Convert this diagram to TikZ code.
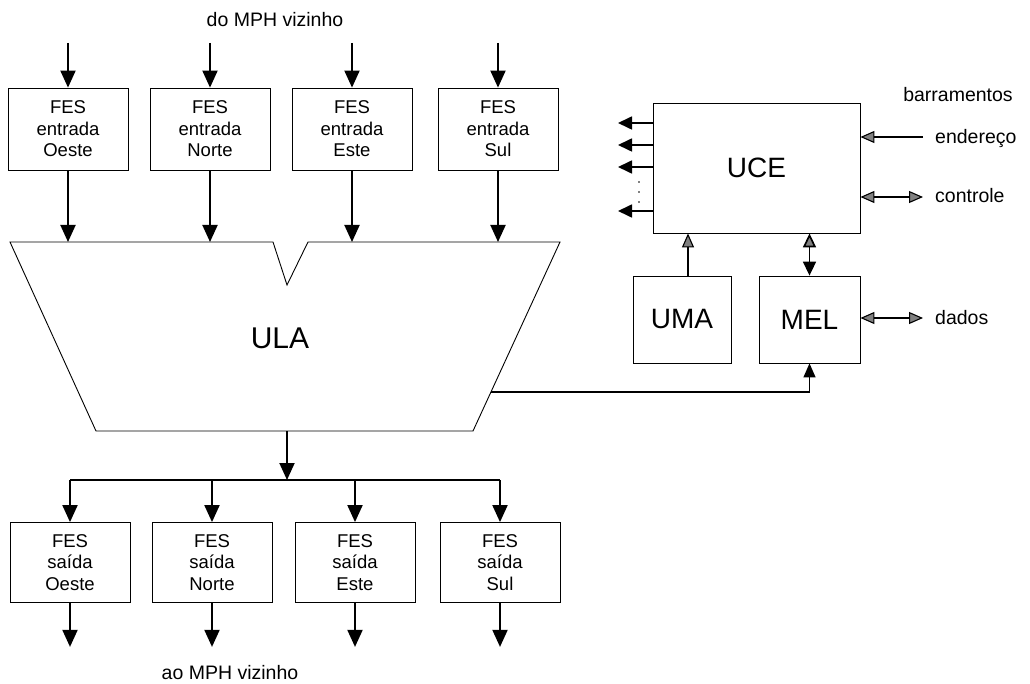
\documentclass[tikz,border=0pt]{standalone}
\usepackage{fontspec}
\setmainfont{Liberation Sans}
\usetikzlibrary{arrows.meta,calc}
\begin{document}
\begin{tikzpicture}[x=1pt,y=-1pt,
  fes/.style={draw,line width=0.8pt,minimum width=120pt,minimum height=82pt,align=center,inner sep=0pt,
    font=\fontsize{18.5}{21.5}\selectfont},
  big/.style={draw,line width=0.8pt,inner sep=0pt,font=\fontsize{28}{32}\selectfont},
  lbl/.style={font=\fontsize{19.5}{22}\selectfont,inner sep=0pt},
  arr/.style={line width=1.9pt,-{Triangle[length=17pt,width=15pt]}},
  sarr/.style={line width=1.7pt,-{Triangle[length=14pt,width=13pt]}},
  marr/.style={line width=1.3pt,-{Triangle[length=14pt,width=12pt]}},
  garr/.style={line width=1.1pt,-{Triangle[length=14pt,width=12pt,fill=gray]}},
  gdarr/.style={line width=1.1pt,{Triangle[length=14pt,width=12pt,fill=gray]}-{Triangle[length=14pt,width=12pt,fill=gray]}},
  bdarr/.style={line width=1.7pt,{Triangle[length=14pt,width=13pt,fill=gray]}-{Triangle[length=14pt,width=13pt]}}
]
\useasboundingbox (0,0) rectangle (1030,684);

% top label
\node[lbl,anchor=base] (top) at (275,27) {do MPH vizinho};

% input FES
\node[fes] (i1) at (68,129) {FES\\entrada\\Oeste};
\node[fes] (i2) at (210,129) {FES\\entrada\\Norte};
\node[fes] (i3) at (352,129) {FES\\entrada\\Este};
\node[fes] (i4) at (498,129) {FES\\entrada\\Sul};

\foreach \n/\x in {1/68,2/210,3/352,4/498}{
  \coordinate (s\n) at (\x,43);
  \draw[arr] (s\n) -- (i\n.north);
  \coordinate (u\n) at (\x,242);
  \draw[arr] (i\n.south) -- (u\n);
}

% ULA
\coordinate (ula1) at (10,242);
\coordinate (ula2) at (273,242);
\coordinate (ula3) at (287,285);
\coordinate (ula4) at (308,242);
\coordinate (ula5) at (560,242);
\coordinate (ula6) at (473,431);
\coordinate (ula7) at (96,431);
\draw[line width=0.9pt] (ula1) -- (ula2) -- (ula3) -- (ula4) -- (ula5) -- (ula6) -- (ula7) -- cycle;
\node[font=\fontsize{30}{34}\selectfont] (ula) at (280,338) {ULA};
\coordinate (ulaout) at (287,431);
\coordinate (ulaR) at (491,392);

% output bus
\coordinate (bus) at (287,480);
\draw[arr] (ulaout) -- (bus);

\node[fes,minimum height=80pt] (o1) at (70,562.5) {FES\\saída\\Oeste};
\node[fes,minimum height=80pt] (o2) at (212,562.5) {FES\\saída\\Norte};
\node[fes,minimum height=80pt] (o3) at (355,562.5) {FES\\saída\\Este};
\node[fes,minimum height=80pt] (o4) at (500,562.5) {FES\\saída\\Sul};

\draw[line width=1.9pt] (o1.north |- bus) -- (o4.north |- bus);
\foreach \n in {1,2,3,4}{
  \draw[arr] (o\n.north |- bus) -- (o\n.north);
  \coordinate (e\n) at ($(o\n.south)+(0,44)$);
  \draw[arr] (o\n.south) -- (e\n);
}
\node[lbl,anchor=base] (bot) at (230,679) {ao MPH vizinho};

% right part
\node[big,minimum width=207pt,minimum height=130pt] (uce) at (756.5,168) {UCE};
\node[big,minimum width=98pt,minimum height=87pt] (uma) at (682,319.5) {UMA};
\node[big,minimum width=101pt,minimum height=87pt] (mel) at (809.5,319.5) {MEL};

\foreach \n/\y in {1/123,2/145,3/167,4/211}{
  \coordinate (c\n) at (618,\y);
  \draw[sarr] (uce.west |- c\n) -- (c\n);
}
\foreach \y in {182,192,202}{
  \fill (639,\y) circle (0.9pt);
}

\draw[garr] (uma.north -| 688,0) -- (uce.south -| 688,0);
\draw[bdarr] (uce.south -| mel.north) -- (mel.north);
\draw[marr] (ulaR) -| (mel.south);

\node[lbl,anchor=base] (barr) at (958,102) {barramentos};
\node[lbl,anchor=base west] (end) at (935,144) {endereço};
\node[lbl,anchor=base west] (ctl) at (935,203) {controle};
\node[lbl,anchor=base west] (dad) at (935,325) {dados};
\coordinate (endA) at (923,137);
\coordinate (ctlA) at (923,197);
\coordinate (dadA) at (923,318);
\draw[garr] (endA) -- (uce.east |- endA);
\draw[gdarr] (uce.east |- ctlA) -- (ctlA);
\draw[gdarr] (mel.east |- dadA) -- (dadA);
\end{tikzpicture}
\end{document}
